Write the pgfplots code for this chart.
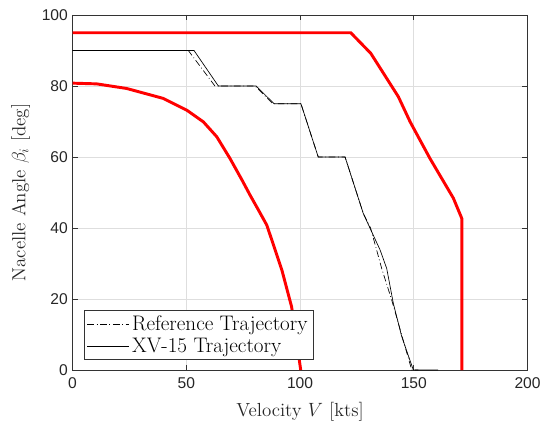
\documentclass[border=0pt]{standalone}
\usepackage{fontspec}
\setsansfont{Liberation Sans}
\usepackage{pgfplots}
\pgfplotsset{compat=1.18}
\pgfplotsset{longline/.style={legend image code/.code={\draw[##1] (0pt,0pt) -- (31.5pt,0pt);}}}
\begin{document}
\begin{tikzpicture}
\begin{axis}[
  scale only axis,
  width=341.25pt, height=266.25pt,
  xmin=0, xmax=200, ymin=0, ymax=100,
  xtick={0,50,100,150,200},
  ytick={0,20,40,60,80,100},
  grid=major,
  major grid style={black!13, line width=0.5pt},
  axis line style={black!80, line width=0.5pt},
  tick style={black!80, line width=0.5pt},
  tick align=inside,
  major tick length=4pt,
  tick label style={font=\fontsize{11.7}{14}\sffamily, text=black!85, /pgf/number format/assume math mode=true},
  xticklabel style={yshift=-2pt},
  xlabel={Velocity $V$ [kts]},
  ylabel={Nacelle Angle $\beta_i$ [deg]},
  label style={font=\fontsize{14.2}{17}\selectfont, text=black!85},
  xlabel style={at={(axis description cs:0.5,-0.1175)}, anchor=center},
  ylabel style={at={(axis description cs:-0.114,0.5)}, anchor=center},
  legend style={font=\fontsize{15.8}{19}\selectfont, at={(0.025,0.028)}, anchor=south west,
    draw=black!80, line width=0.5pt, legend cell align=left, inner sep=2pt,
    row sep=0pt},
]
% outer red boundary
\addplot[red, line width=2.2pt, forget plot] coordinates {
 (0,95) (122.3,95) (131.1,89.2) (143.2,77) (148.4,69.9) (157.1,59.6)
 (167.4,48.4) (171.1,42.7) (171.1,0)};
% inner red boundary
\addplot[red, line width=2.2pt, forget plot] coordinates {
 (0,80.8) (10.6,80.6) (23.8,79.3) (39.9,76.5) (50.2,73.2) (57.5,69.9)
 (63.4,65.7) (69.2,59.6) (74.5,53.5) (78,49.3) (81.6,45.2) (85.4,40.8) (92,28.2)
 (96.3,17.8) (100.3,0)};
% reference trajectory
\addplot[black, line width=0.5pt, dash pattern=on 5pt off 2pt on 0.6pt off 2pt, longline] coordinates {
 (0,90) (50.9,90) (62.6,80) (80.2,80) (88,75) (100.4,75) (108,60) (119.8,60)
 (127.8,44.1) (131,40) (135.9,28.6) (140.3,19.7) (149.1,0) (152,0)};
\addlegendentry{Reference Trajectory}
% XV-15 trajectory
\addplot[black, line width=0.5pt, longline] coordinates {
 (0,90) (53.4,90) (64.1,80) (80.7,80) (88.6,75) (100.4,75) (108,60) (119.8,60)
 (127.8,44.1) (130.8,39.9) (135.2,33.8) (138.1,28.6) (141,18.8) (144.7,9.4)
 (149.8,0) (160.7,0)};
\addlegendentry{XV-15 Trajectory}
\end{axis}
\pgfresetboundingbox
\path ([shift={(-54.4pt,-38.25pt)}]current axis.south west) rectangle ([shift={(10.1pt,11.25pt)}]current axis.north east);
\end{tikzpicture}
\end{document}
